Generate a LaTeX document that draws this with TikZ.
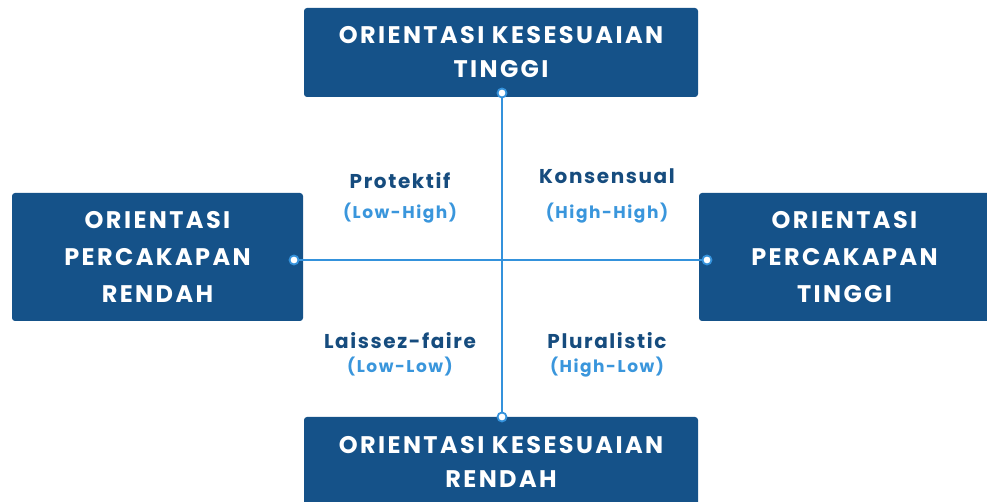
\documentclass[tikz,border=0pt]{standalone}
\usepackage{fontspec}
\setmainfont{Poppins}
\newfontfamily\boxfont{Poppins}[LetterSpace=10]
\newfontfamily\quadfont{Poppins}[LetterSpace=8]
\newfontfamily\pairfont{Poppins}[LetterSpace=9]
\usepackage{xcolor}
\definecolor{boxblue}{RGB}{21,82,137}
\definecolor{lineblue}{RGB}{52,146,220}
\definecolor{labelblue}{RGB}{22,76,126}
\definecolor{subblue}{RGB}{58,150,220}

\begin{document}
\begin{tikzpicture}[x=1pt,y=1pt,
        orient/.style={fill=boxblue,rounded corners=3pt,text=white,align=center,
            font=\boxfont\bfseries\fontsize{24}{34}\selectfont,inner sep=0pt},
        tall/.style={font=\boxfont\bfseries\fontsize{24}{37}\selectfont},
        dot/.style={circle,draw=lineblue,fill=white,line width=1.8pt,inner sep=0pt,minimum size=9pt},
        axis/.style={draw=lineblue,line width=2pt},
        quad/.style={text=labelblue,font=\quadfont\bfseries\fontsize{20}{22}\selectfont},
        pair/.style={text=subblue,font=\pairfont\bfseries\fontsize{17}{19}\selectfont}]
    \useasboundingbox (0,0) rectangle (987,502);
    \clip (0,0) rectangle (987,502);
    % orientation boxes
    \node[orient,minimum width=394,minimum height=89] (kt) at (501,449.5) {ORIENTASI KESESUAIAN\\TINGGI};
    \node[orient,minimum width=394,minimum height=89] (kr) at (501,40.5) {ORIENTASI KESESUAIAN\\RENDAH};
    \node[orient,tall,minimum width=291,minimum height=128] (pr) at (157.5,245) {ORIENTASI\\PERCAKAPAN\\RENDAH};
    \node[orient,tall,minimum width=291,minimum height=128] (pt) at (844.5,245) {ORIENTASI\\PERCAKAPAN\\TINGGI};
    % end points
    \node[dot] (dkt) at (502,409) {};
    \node[dot] (dkr) at (502,85) {};
    \node[dot] (dpr) at (294,242) {};
    \node[dot] (dpt) at (707,242) {};
    \draw[axis] (dkt) -- (dkr);
    \draw[axis] (dpr) -- (dpt);
    % quadrants
    \node[quad] (prot) at (400,321) {Protektif};
    \node[pair] (lh) at (400,289) {(Low-High)};
    \node[quad] (kons) at (607,326) {Konsensual};
    \node[pair] (hh) at (607,289) {(High-High)};
    \node[quad] (lais) at (400,161) {Laissez-faire};
    \node[pair] (ll) at (400,135) {(Low-Low)};
    \node[quad] (plur) at (607,161) {Pluralistic};
    \node[pair] (hl) at (607,135) {(High-Low)};
\end{tikzpicture}
\end{document}
